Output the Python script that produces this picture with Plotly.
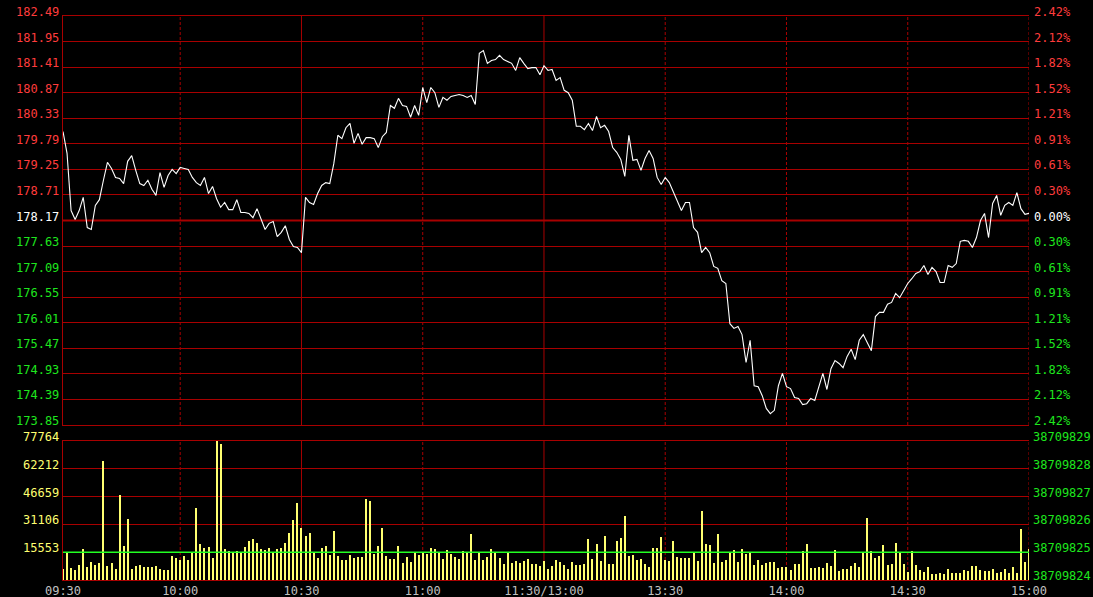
import plotly.graph_objects as go

# ---------------- data ----------------
base_price = 178.17
price = [180.05,179.59,178.38,178.19,178.38,178.66,178.02,177.98,178.49,178.61,
179.02,179.40,179.27,179.08,179.06,178.95,179.42,179.54,179.23,178.95,
178.91,179.02,178.83,178.70,179.18,178.87,179.12,179.25,179.16,179.29,
179.27,179.25,179.08,178.97,178.91,179.08,178.74,178.89,178.63,178.45,
178.55,178.40,178.40,178.61,178.34,178.34,178.32,178.23,178.42,178.21,
177.98,178.11,178.15,177.83,177.92,178.06,177.77,177.62,177.60,177.49,
178.66,178.55,178.51,178.74,178.91,178.97,178.95,179.37,179.97,179.90,
180.13,180.22,179.80,180.01,179.78,179.92,179.92,179.90,179.71,179.94,
180.03,180.60,180.54,180.75,180.60,180.58,180.35,180.60,180.39,180.98,
180.66,180.98,180.87,180.56,180.77,180.71,180.79,180.81,180.83,180.81,
180.77,180.81,180.62,181.70,181.76,181.49,181.55,181.57,181.66,181.57,
181.53,181.49,181.34,181.61,181.49,181.38,181.40,181.40,181.25,181.44,
181.34,181.36,181.13,181.19,180.92,180.87,180.71,180.16,180.16,180.09,
180.22,180.07,180.37,180.13,180.18,180.05,179.71,179.61,179.46,179.10,
179.97,179.44,179.46,179.23,179.48,179.65,179.48,179.08,178.93,179.08,
178.97,178.76,178.55,178.38,178.55,178.55,178.02,177.92,177.49,177.60,
177.49,177.20,177.16,176.90,176.84,175.99,175.89,175.93,175.76,175.17,
175.64,174.68,174.66,174.47,174.20,174.09,174.16,174.68,174.94,174.66,
174.62,174.43,174.41,174.28,174.30,174.41,174.37,174.64,174.94,174.60,
175.04,175.21,175.15,175.06,175.30,175.45,175.23,175.64,175.76,175.59,
175.42,176.14,176.23,176.23,176.40,176.44,176.63,176.54,176.69,176.84,
176.94,177.05,177.09,177.22,177.03,177.18,177.09,176.86,176.86,177.22,
177.18,177.26,177.73,177.75,177.73,177.60,177.81,178.17,178.32,177.81,
178.53,178.70,178.28,178.49,178.55,178.49,178.76,178.42,178.30,178.32]

volume = [6140,15240,6870,5580,8370,17300,7420,10050,8540,9490,
66400,7980,9490,6310,47430,18970,34040,6310,7980,8540,
7420,7420,7420,7980,6310,5750,5750,13390,12440,11330,
13390,11330,15230,40340,20090,18020,18410,12440,77764,76050,
17470,16350,15230,16350,15230,18580,21930,23050,20810,17470,
16740,18020,15620,17470,18020,20810,26390,33650,43130,29020,
24720,26230,15230,12440,18020,19140,14120,27510,13390,11330,
11330,14120,12440,13000,13000,45370,44250,14680,19140,29020,
13390,11890,11890,19140,9650,13000,10210,15070,14120,15070,
14680,18020,17300,15230,11890,16910,14680,13000,11890,16350,
15230,25840,11330,15230,11330,13000,17470,15230,12440,9100,
15230,9650,10770,9650,10770,11890,9100,9100,7980,10600,
6310,7980,11330,10210,8540,6310,10210,8540,8540,9100,
23050,11890,20090,10770,24720,9100,9100,21930,23600,35880,
13560,14120,11330,11890,9100,7420,18020,18020,24160,11330,
10770,21930,13000,12440,12440,12440,15230,10770,38670,20250,
19700,9650,25840,10210,11330,15230,16910,10210,17470,14680,
15230,8540,11330,8540,9650,10210,10210,6860,7420,7420,
5750,9100,9100,16350,20250,6860,6860,7420,6860,9650,
7980,16910,5190,6310,6310,7980,9650,7420,15230,34760,
16350,12440,13560,19700,8540,9100,20810,15230,9100,4300,
16350,8540,5750,4630,7420,3520,3520,4070,3520,6310,
4070,4070,4070,5750,5190,7980,7980,5750,5190,5190,
6310,4070,4630,6310,4070,7420,4070,28640,10210,17470]

price_step = 0.54
price_levels_count = 8
time_ticks = [0, 29, 59, 89, 119, 149, 179, 209, 239]
time_labels = ["09:30", "10:00", "10:30", "11:00", "11:30/13:00", "13:30", "14:00", "14:30", "15:00"]
time_line_solid = [False, False, True, False, True, False, False, False, False]
vol_max = 77764
vol_left_labels = ["77764", "62212", "46659", "31106", "15553"]
vol_right_labels = ["38709829", "38709828", "38709827", "38709826", "38709825", "38709824"]
vol_ref_line = 15553

# ---------------- styling ----------------
GRID = "#A80000"
RED = "#FF3C3C"
GREEN = "#1EE61E"
WHITE = "#FFFFFF"
YELLOW = "#FFFF70"
GRAY = "#C0C0C0"
FONT = "DejaVu Sans Mono"

idx = list(range(len(price)))
levels = [base_price + i * price_step for i in range(-price_levels_count, price_levels_count + 1)]
pmin, pmax = levels[0], levels[-1]
vol_levels = [vol_max * i / 5 for i in range(6)]

H, T, B = 597, 16, 17
plot_h = H - T - B
price_dom = [(580 - 425) / plot_h, 1.0]
vol_dom = [0.0, (580 - 441) / plot_h]

fig = go.Figure()
fig.add_trace(go.Bar(x=idx, y=volume, xaxis="x", yaxis="y", width=0.25,
                     marker=dict(color=YELLOW, line=dict(width=0)), hoverinfo="skip"))
fig.add_trace(go.Scatter(x=idx, y=price, xaxis="x2", yaxis="y2", mode="lines",
                         line=dict(color=WHITE, width=1.1), hoverinfo="skip"))

shapes = []
# vertical time lines
for t, solid in zip(time_ticks[1:], time_line_solid[1:]):
    for yr in ("y domain", "y2 domain"):
        shapes.append(dict(type="line", xref="x", yref=yr, x0=t, x1=t, y0=0, y1=1,
                           line=dict(color=GRID, width=1, dash="solid" if solid else "3px,2px"),
                           layer="below"))
# zero (previous close) line
shapes.append(dict(type="line", xref="x2 domain", yref="y2", x0=0, x1=1, y0=base_price, y1=base_price,
                   line=dict(color=GRID, width=2.2), layer="below"))
# volume reference line
shapes.append(dict(type="line", xref="x domain", yref="y", x0=0, x1=1, y0=vol_ref_line, y1=vol_ref_line,
                   line=dict(color="#22FF22", width=1.5), layer="above"))

annotations = []
for i, lv in enumerate(levels):
    d = i - price_levels_count
    col = RED if d > 0 else (WHITE if d == 0 else GREEN)
    pct = abs(lv - base_price) / base_price * 100
    annotations.append(dict(xref="paper", yref="y2", x=0, y=lv, xanchor="right", yanchor="middle",
                            xshift=-2, yshift=4, text=f"{lv:.2f}", showarrow=False,
                            font=dict(family=FONT, size=12, color=col)))
    annotations.append(dict(xref="paper", yref="y2", x=1, y=lv, xanchor="left", yanchor="middle",
                            xshift=3, yshift=4, text=f"{pct:.2f}%", showarrow=False,
                            font=dict(family=FONT, size=12, color=col)))
for lab, lv in zip(vol_left_labels, vol_levels[::-1]):
    annotations.append(dict(xref="paper", yref="y", x=0, y=lv, xanchor="right", yanchor="middle",
                            xshift=-2, yshift=4, text=lab, showarrow=False,
                            font=dict(family=FONT, size=12, color=YELLOW)))
for lab, lv in zip(vol_right_labels, vol_levels[::-1]):
    annotations.append(dict(xref="paper", yref="y", x=1, y=lv, xanchor="left", yanchor="middle",
                            xshift=2, yshift=4, text=lab, showarrow=False,
                            font=dict(family=FONT, size=12, color=GREEN)))

xcommon = dict(range=[0, 239], showgrid=False, zeroline=False, showline=True, mirror=True,
               linecolor=GRID, linewidth=1, ticks="", fixedrange=True, automargin=False)
fig.update_layout(
    template="none",
    width=1093, height=H, paper_bgcolor="black", plot_bgcolor="black",
    margin=dict(l=63, r=64, t=T, b=B, autoexpand=False), showlegend=False, bargap=0, bargroupgap=0,
    font=dict(family=FONT, size=12, color=GRAY),
    xaxis=dict(**xcommon, anchor="y", tickmode="array", tickvals=time_ticks, ticktext=time_labels,
               tickfont=dict(family=FONT, size=12, color=GRAY), showticklabels=True),
    xaxis2=dict(**xcommon, anchor="y2", matches="x", showticklabels=False),
    yaxis=dict(domain=vol_dom, range=[0, vol_max], tickmode="array", tickvals=vol_levels,
               showgrid=True, gridcolor=GRID, gridwidth=1, showticklabels=False, zeroline=False,
               showline=True, linecolor=GRID, ticks="", fixedrange=True, automargin=False),
    yaxis2=dict(domain=price_dom, range=[pmin, pmax], tickmode="array", tickvals=levels,
                showgrid=True, gridcolor=GRID, gridwidth=1, showticklabels=False, zeroline=False,
                showline=True, linecolor=GRID, ticks="", fixedrange=True, anchor="x2", automargin=False),
    shapes=shapes, annotations=annotations,
)
fig.write_html("out.html", config={"displayModeBar": False},
               post_script="document.body.style.margin='0';document.body.style.overflow='hidden';document.body.style.background='black';")
